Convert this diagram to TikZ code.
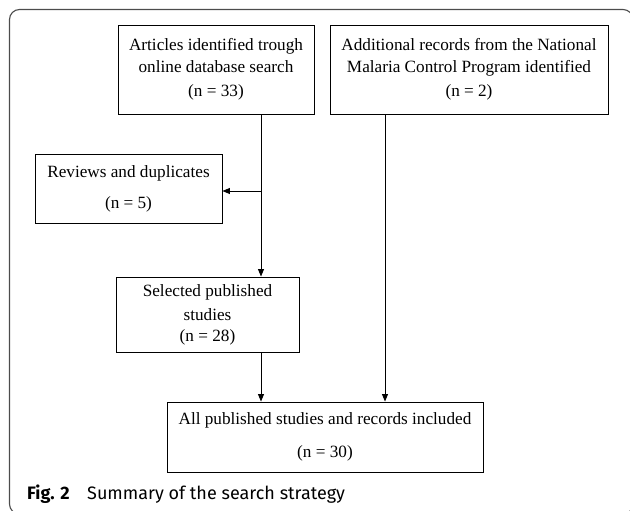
\documentclass[tikz,border=0pt]{standalone}
\usepackage{fontspec}
\setmainfont{Liberation Serif}
\newfontfamily\capfont{Fira Sans}
\usetikzlibrary{arrows.meta}
\begin{document}
\begin{tikzpicture}[x=1pt,y=-1pt,
  box/.style={draw=black,line width=0.9pt,rectangle,inner sep=0pt,align=center,
    font=\fontsize{17.2}{22}\selectfont},
  arr/.style={line width=0.9pt,-{Triangle[length=7.5pt,width=6pt]}},
  outerframe/.style={draw=black!70,line width=1.1pt,rounded corners=10pt},
  captext/.style={anchor=base west,inner sep=0pt,font=\capfont\fontsize{18}{22}\selectfont}]
\useasboundingbox (0,0) rectangle (630,511);
\begin{scope}
  \clip (0,0) rectangle (630,511);
  \draw[outerframe] (9.5,9.5) rectangle (633,514);
\end{scope}
% boxes
\node[box,minimum width=196pt,minimum height=89pt] (A) at (216,69.5)
  {Articles identified trough\\ online database search\\[2pt] (n = 33)};
\node[box,minimum width=278pt,minimum height=89pt] (B) at (469,69.5)
  {Additional records from the National\\ Malaria Control Program identified\\[2pt] (n = 2)};
\node[box,minimum width=187pt,minimum height=69pt] (C) at (128.5,188.5)
  {Reviews and duplicates\\[9pt] (n = 5)};
\node[box,minimum width=183pt,minimum height=75pt] (D) at (207.5,314.5)
  {Selected published\\[2pt] studies\\[-1pt] (n = 28)};
\node[box,minimum width=316pt,minimum height=70pt] (E) at (325,437)
  {All published studies and records included\\[11pt] (n = 30)};
% connector helpers
\coordinate (sp) at (261,0);
\coordinate (br) at (261,191);
\coordinate (sq) at (385,0);
\draw[arr] (A.south -| sp) -- (D.north -| sp);
\draw[arr] (br) -- (br -| C.east);
\draw[arr] (D.south -| sp) -- (E.north -| sp);
\draw[arr] (B.south -| sq) -- (E.north -| sq);
% caption
\node[captext] (fig) at (27,499) {\makebox[60pt][l]{\textbf{Fig. 2}}Summary of the search strategy};
\end{tikzpicture}
\end{document}
